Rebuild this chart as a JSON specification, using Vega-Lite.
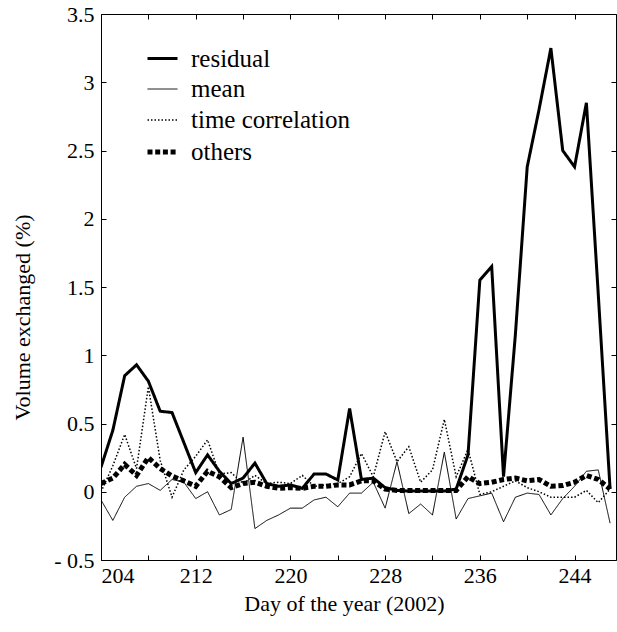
{
  "$schema": "https://vega.github.io/schema/vega-lite/v6.json",
  "width": 515,
  "height": 546,
  "autosize": {"type": "none"},
  "padding": {"left": 101, "top": 14, "right": 1, "bottom": 72},
  "background": "white",
  "config": {
    "view": {"stroke": "black", "strokeWidth": 1},
    "font": "Liberation Serif",
    "axis": {
      "labelFont": "Liberation Serif",
      "titleFont": "Liberation Serif",
      "labelColor": "black",
      "titleColor": "black",
      "tickColor": "black",
      "domainColor": "black",
      "titleFontWeight": "normal",
      "grid": false
    },
    "legend": {
      "labelFont": "Liberation Serif"
    }
  },
  "data": {
    "values": [
      {"day": 204, "residual": 0.18, "mean": -0.06, "time correlation": 0.0, "others": 0.06},
      {"day": 205, "residual": 0.45, "mean": -0.21, "time correlation": 0.19, "others": 0.10},
      {"day": 206, "residual": 0.85, "mean": -0.04, "time correlation": 0.42, "others": 0.20},
      {"day": 207, "residual": 0.93, "mean": 0.04, "time correlation": 0.17, "others": 0.12},
      {"day": 208, "residual": 0.81, "mean": 0.06, "time correlation": 0.77, "others": 0.25},
      {"day": 209, "residual": 0.59, "mean": 0.01, "time correlation": 0.23, "others": 0.17},
      {"day": 210, "residual": 0.58, "mean": 0.09, "time correlation": -0.04, "others": 0.115},
      {"day": 211, "residual": 0.36, "mean": 0.07, "time correlation": 0.16, "others": 0.08},
      {"day": 212, "residual": 0.14, "mean": -0.05, "time correlation": 0.26, "others": 0.04},
      {"day": 213, "residual": 0.27, "mean": 0.0, "time correlation": 0.38, "others": 0.15},
      {"day": 214, "residual": 0.15, "mean": -0.17, "time correlation": 0.13, "others": 0.11},
      {"day": 215, "residual": 0.06, "mean": -0.13, "time correlation": 0.14, "others": 0.03},
      {"day": 216, "residual": 0.10, "mean": 0.40, "time correlation": 0.06, "others": 0.06},
      {"day": 217, "residual": 0.21, "mean": -0.27, "time correlation": 0.12, "others": 0.07},
      {"day": 218, "residual": 0.06, "mean": -0.21, "time correlation": 0.06, "others": 0.04},
      {"day": 219, "residual": 0.04, "mean": -0.17, "time correlation": 0.07, "others": 0.025},
      {"day": 220, "residual": 0.05, "mean": -0.12, "time correlation": 0.06, "others": 0.03},
      {"day": 221, "residual": 0.025, "mean": -0.12, "time correlation": 0.12, "others": 0.025},
      {"day": 222, "residual": 0.13, "mean": -0.06, "time correlation": 0.04, "others": 0.04},
      {"day": 223, "residual": 0.13, "mean": -0.04, "time correlation": 0.05, "others": 0.04},
      {"day": 224, "residual": 0.086, "mean": -0.11, "time correlation": 0.06, "others": 0.05},
      {"day": 225, "residual": 0.61, "mean": -0.01, "time correlation": 0.11, "others": 0.05},
      {"day": 226, "residual": 0.09, "mean": -0.01, "time correlation": 0.28, "others": 0.08},
      {"day": 227, "residual": 0.10, "mean": 0.07, "time correlation": 0.11, "others": 0.08},
      {"day": 228, "residual": 0.03, "mean": -0.12, "time correlation": 0.44, "others": 0.02},
      {"day": 229, "residual": 0.01, "mean": 0.22, "time correlation": 0.22, "others": 0.01},
      {"day": 230, "residual": 0.005, "mean": -0.16, "time correlation": 0.33, "others": 0.01},
      {"day": 231, "residual": 0.005, "mean": -0.09, "time correlation": 0.07, "others": 0.01},
      {"day": 232, "residual": 0.005, "mean": -0.17, "time correlation": 0.16, "others": 0.01},
      {"day": 233, "residual": 0.005, "mean": 0.29, "time correlation": 0.53, "others": 0.01},
      {"day": 234, "residual": 0.02, "mean": -0.20, "time correlation": 0.11, "others": 0.01},
      {"day": 235, "residual": 0.27, "mean": -0.05, "time correlation": 0.31, "others": 0.11},
      {"day": 236, "residual": 1.55, "mean": -0.03, "time correlation": -0.02, "others": 0.06},
      {"day": 237, "residual": 1.65, "mean": -0.01, "time correlation": 0.0, "others": 0.07},
      {"day": 238, "residual": 0.11, "mean": -0.22, "time correlation": 0.04, "others": 0.09},
      {"day": 239, "residual": 1.15, "mean": -0.04, "time correlation": 0.08, "others": 0.10},
      {"day": 240, "residual": 2.38, "mean": -0.01, "time correlation": 0.03, "others": 0.08},
      {"day": 241, "residual": 2.80, "mean": -0.02, "time correlation": 0.0, "others": 0.09},
      {"day": 242, "residual": 3.25, "mean": -0.17, "time correlation": -0.04, "others": 0.04},
      {"day": 243, "residual": 2.50, "mean": -0.05, "time correlation": -0.04, "others": 0.045},
      {"day": 244, "residual": 2.38, "mean": 0.04, "time correlation": -0.04, "others": 0.07},
      {"day": 245, "residual": 2.85, "mean": 0.15, "time correlation": 0.01, "others": 0.12},
      {"day": 246, "residual": 1.45, "mean": 0.16, "time correlation": -0.08, "others": 0.09},
      {"day": 247, "residual": 0.02, "mean": -0.23, "time correlation": 0.02, "others": 0.02}
    ]
  },
  "transform": [
    {"fold": ["residual", "mean", "time correlation", "others"], "as": ["series", "value"]}
  ],
  "resolve": {"axis": {"x": "independent", "y": "independent"}},
  "layer": [
    {
      "mark": {"type": "line", "color": "black", "strokeJoin": "miter", "clip": true},
      "encoding": {
        "x": {
          "field": "day", "type": "quantitative",
          "scale": {"domain": [204, 247.5], "nice": false, "zero": false},
          "axis": {
            "orient": "bottom",
            "values": [204, 208, 212, 216, 220, 224, 228, 232, 236, 240, 244],
            "labelExpr": "datum.value % 8 == 4 ? datum.label : ''",
            "tickSize": -5,
            "labelPadding": 10,
            "labelFontSize": 22,
            "domain": false,
            "title": "Day of the year (2002)",
            "titleFontSize": 22,
            "titleBaseline": "alphabetic",
            "titleAlign": "center",
            "titleX": 243,
            "titleY": 50
          }
        },
        "y": {
          "field": "value", "type": "quantitative",
          "scale": {"domain": [-0.5, 3.5], "nice": false, "zero": false},
          "axis": {
            "orient": "left",
            "values": [-0.5, 0, 0.5, 1, 1.5, 2, 2.5, 3, 3.5],
            "format": "~g",
            "labelExpr": "datum.value == -0.5 ? '- 0.5' : datum.label",
            "tickSize": -5,
            "labelPadding": 12,
            "labelFontSize": 22,
            "domain": false,
            "title": "Volume exchanged (%)",
            "titleFontSize": 22,
            "titleAngle": -90,
            "titleBaseline": "middle",
            "titleAlign": "center",
            "titleX": -79,
            "titleY": 303
          }
        },
        "strokeDash": {
          "field": "series", "type": "nominal",
          "scale": {
            "domain": ["residual", "mean", "time correlation", "others"],
            "range": [[1, 0], [1, 0], [1.5, 2], [5, 2.7]]
          },
          "legend": {
            "title": null,
            "orient": "none",
            "legendX": 44,
            "legendY": 28,
            "padding": 0,
            "symbolType": "stroke",
            "symbolSize": 900,
            "symbolStrokeColor": "black",
            "labelFont": "Liberation Serif",
            "labelFontSize": 25,
            "labelColor": "black",
            "labelLimit": 300,
            "labelOffset": 11,
            "rowPadding": 1.5
          }
        },
        "strokeWidth": {
          "field": "series", "type": "nominal",
          "scale": {
            "type": "ordinal",
            "domain": ["residual", "mean", "time correlation", "others"],
            "range": [3, 1, 1.5, 5]
          },
          "legend": {
            "title": null,
            "orient": "none",
            "legendX": 44,
            "legendY": 28,
            "padding": 0,
            "symbolType": "stroke",
            "symbolSize": 900,
            "symbolStrokeColor": "black",
            "labelFont": "Liberation Serif",
            "labelFontSize": 25,
            "labelColor": "black",
            "labelLimit": 300,
            "labelOffset": 11,
            "rowPadding": 1.5
          }
        }
      }
    },
    {
      "mark": {"type": "line", "opacity": 0},
      "encoding": {
        "x": {
          "field": "day", "type": "quantitative",
          "scale": {"domain": [204, 247.5], "nice": false, "zero": false},
          "axis": {
            "orient": "top",
            "values": [204, 208, 212, 216, 220, 224, 228, 232, 236, 240, 244],
            "labels": false, "tickSize": -5, "domain": false, "title": null
          }
        },
        "y": {
          "field": "value", "type": "quantitative",
          "scale": {"domain": [-0.5, 3.5], "nice": false, "zero": false},
          "axis": {
            "orient": "right",
            "values": [-0.5, 0, 0.5, 1, 1.5, 2, 2.5, 3, 3.5],
            "labels": false, "tickSize": -5, "domain": false, "title": null
          }
        },
        "detail": {"field": "series", "type": "nominal"}
      }
    }
  ]
}
